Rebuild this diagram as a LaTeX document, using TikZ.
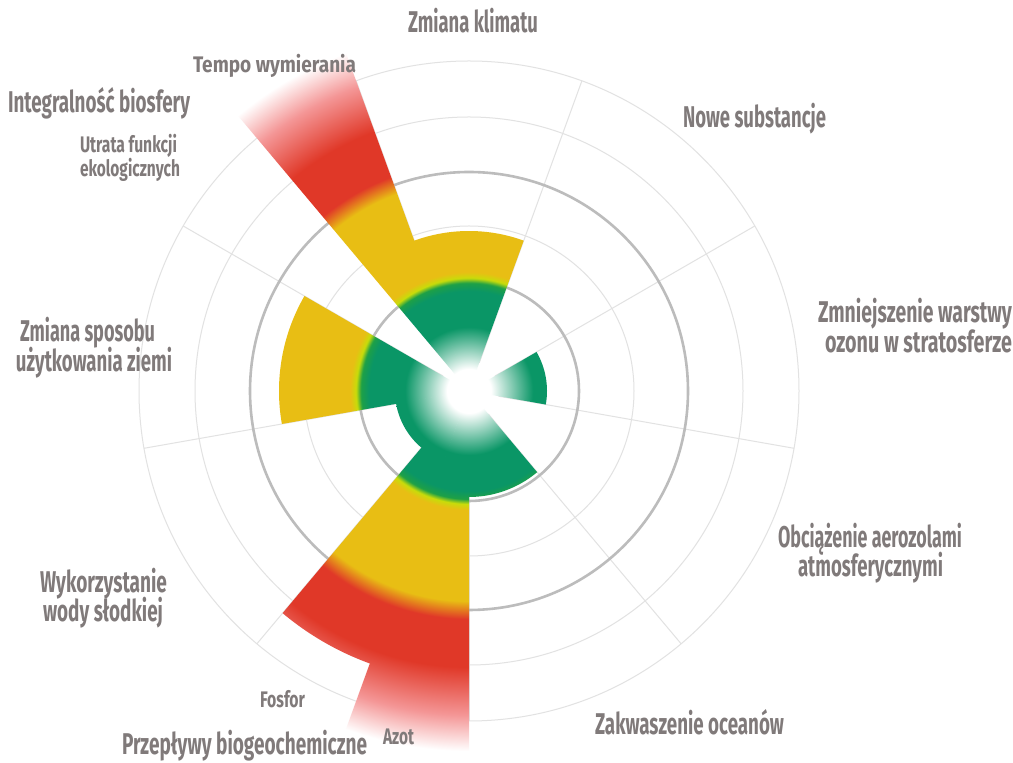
\documentclass[tikz,border=0pt]{standalone}
\usepackage{fontspec}
\setmainfont{Fira Sans}
\usepackage{graphicx}
\definecolor{pbgreen}{RGB}{10,150,102}
\definecolor{pbgreenb}{RGB}{30,160,70}
\definecolor{pblime}{RGB}{200,220,10}
\definecolor{pbyellow}{RGB}{232,190,20}
\definecolor{pbred}{RGB}{224,56,40}
\definecolor{pbpink}{RGB}{244,150,150}
\definecolor{labgray}{RGB}{128,122,122}
\definecolor{ringdark}{RGB}{188,188,188}
\definecolor{ringlight}{RGB}{226,226,226}
\pgfdeclareradialshading{pbbands}{\pgfpointorigin}{%
color(0pt)=(white); color(22pt)=(white); color(64pt)=(pbgreen); color(100pt)=(pbgreen);
color(108pt)=(pbgreenb); color(113pt)=(pblime); color(119pt)=(pbyellow); color(210pt)=(pbyellow);
color(228pt)=(pbred); color(276pt)=(pbred); color(324pt)=(pbpink); color(360pt)=(white); color(380pt)=(white)}
\newcommand\pbwedge[4]{\begin{scope}\clip (0,0) -- (#2:#4) arc[start angle=#2,end angle=#3,radius=#4] -- cycle;
\node[inner sep=0pt,outer sep=0pt] (#1) at (0,0) {\pgfuseshading{pbbands}};\end{scope}}
\newcommand\pbbig{\fontsize{30}{36}\selectfont\bfseries}
\newcommand\pbsmall{\fontsize{22.5}{27}\selectfont\bfseries}
\newcommand\fitw[2]{\resizebox{#1pt}{\height}{#2}}
\begin{document}
\begin{tikzpicture}[x=1pt,y=1pt,
  lab/.style={inner sep=0pt, outer sep=0pt, text=labgray, anchor=base west},
  biglab/.style={lab, font=\pbbig},
  smalllab/.style={lab, font=\pbsmall},
  ringthin/.style={draw=ringlight, line width=1pt},
  ringthick/.style={draw=ringdark, line width=2.6pt}]
\useasboundingbox (0,0) rectangle (1013,763);
\fill[white] (0,0) rectangle (1013,763);
\begin{scope}[shift={(469,372)}]
  \foreach \r in {165,274,330} \draw[ringthin] (0,0) circle[radius=\r];
  \foreach \a in {30,70,...,350} \draw[ringthin] (\a:30) -- (\a:330);
  \draw[ringthick] (0,0) circle[radius=110];
  \draw[ringthick] (0,0) circle[radius=219];
  \pbwedge{gene}{110}{130}{372}
  \pbwedge{clim}{70}{110.5}{160}
  \pbwedge{land}{150}{190}{190}
  \pbwedge{nitr}{250}{270}{372}
  \pbwedge{phos}{230}{250.5}{290}
  \pbwedge{fresh}{189.5}{230.5}{74}
  \pbwedge{ocean}{269.5}{310}{106}
  \pbwedge{ozone}{350}{390}{78}
\end{scope}
\node[biglab] (klimat) at (408,730) {\fitw{130}{Zmiana klimatu}};
\node[biglab] (integr) at (8,650) {\fitw{182}{Integralność biosfery}};
\node[biglab] (nowe) at (683,635) {\fitw{143}{Nowe substancje}};
\node[biglab] (ozon1) at (818,440) {\fitw{194}{Zmniejszenie warstwy}};
\node[biglab] (ozon2) at (825,410) {\fitw{187}{ozonu w stratosferze}};
\node[biglab] (lad1) at (20,421) {\fitw{135}{Zmiana sposobu}};
\node[biglab] (lad2) at (16,391) {\fitw{156}{użytkowania ziemi}};
\node[biglab] (aer1) at (778,215) {\fitw{184}{Obciążenie aerozolami}};
\node[biglab] (aer2) at (798,186) {\fitw{145}{atmosferycznymi}};
\node[biglab] (woda1) at (40,170) {\fitw{127}{Wykorzystanie}};
\node[biglab] (woda2) at (43,141) {\fitw{120}{wody słodkiej}};
\node[biglab] (oceanl) at (595,28) {\fitw{189}{Zakwaszenie oceanów}};
\node[biglab] (przep) at (122,8) {\fitw{245}{Przepływy biogeochemiczne}};
\node[smalllab] (tempo) at (193,690) {\fitw{163}{Tempo wymierania}};
\node[smalllab] (utr1) at (80,610) {\fitw{97}{Utrata funkcji}};
\node[smalllab] (utr2) at (80,586) {\fitw{100}{ekologicznych}};
\node[smalllab] (fosf) at (260,55) {\fitw{45}{Fosfor}};
\node[smalllab] (azot) at (383,18) {\fitw{31}{Azot}};
\end{tikzpicture}
\end{document}
